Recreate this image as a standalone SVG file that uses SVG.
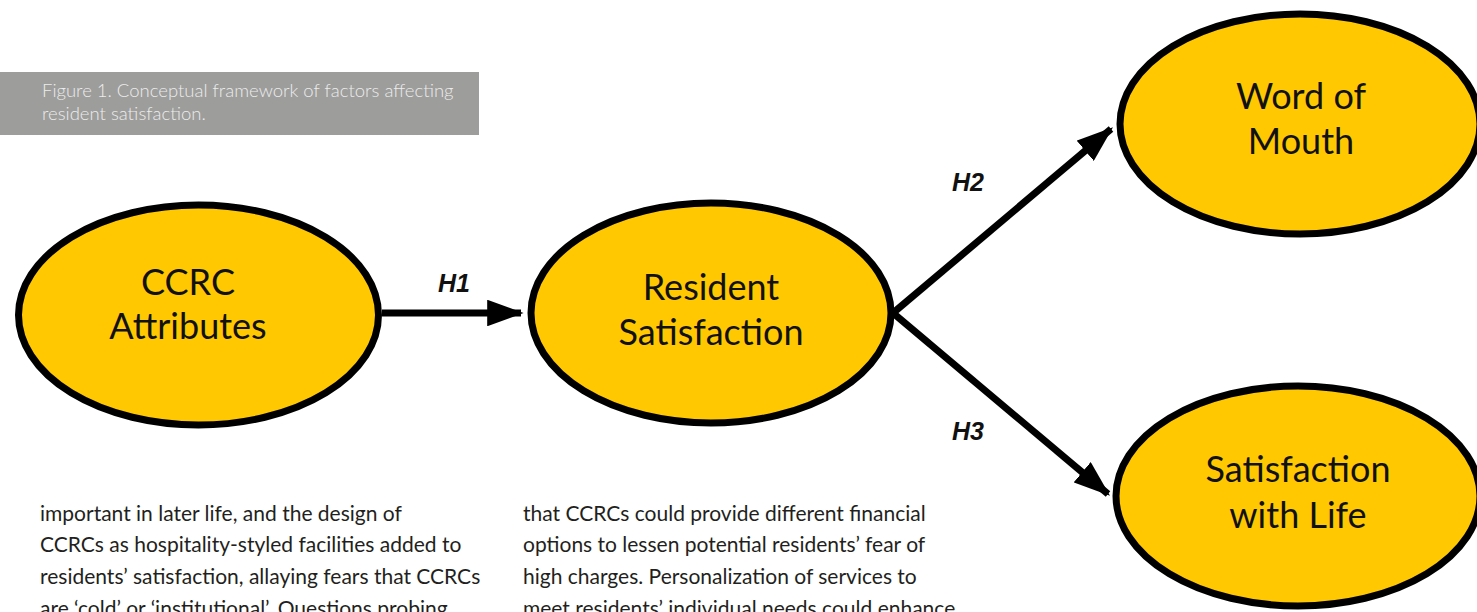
<svg xmlns="http://www.w3.org/2000/svg" width="1477" height="612" viewBox="0 0 1477 612">
<style>
.node{fill:#FFC800;stroke:#000;stroke-width:7}
.lbl{font-family:Lato,"Open Sans",sans-serif;font-size:36px;fill:#111;text-anchor:middle}
.h{font-family:"Liberation Sans",Arial,sans-serif;font-weight:bold;font-style:italic;font-size:25px;fill:#111;text-anchor:middle}
.conn{stroke:#000;stroke-width:7;fill:none}
.cap{font-family:Lato,"Open Sans",sans-serif;font-weight:300;font-size:18.5px;fill:#ececec}
.body{font-family:Lato,"Open Sans",sans-serif;font-size:21px;fill:#231f20}
</style>
<defs>
<marker id="ah" viewBox="0 0 14 10" refX="13" refY="5" markerWidth="5.2" markerHeight="3.8" markerUnits="strokeWidth" orient="auto" preserveAspectRatio="none">
<path d="M0,0 L14,5 L0,10 z" fill="#000"/>
</marker>
</defs>
<rect x="0" y="72" width="479" height="63" fill="#9d9d9b"/>
<text class="cap" x="42" y="97">Figure 1. Conceptual framework of factors affecting</text>
<text class="cap" x="42" y="120">resident satisfaction.</text>
<g id="connectors">
<line class="conn" x1="382" y1="313" x2="521" y2="313" marker-end="url(#ah)"/>
<line class="conn" x1="893" y1="313" x2="1111" y2="129" marker-end="url(#ah)"/>
<line class="conn" x1="893" y1="313" x2="1108" y2="494" marker-end="url(#ah)"/>
<text class="h" x="454" y="292">H1</text>
<text class="h" x="968" y="191">H2</text>
<text class="h" x="968" y="440">H3</text>
</g>
<g id="ccrc">
<ellipse class="node" cx="198.5" cy="315" rx="180" ry="110"/>
<text class="lbl" x="188" y="295">CCRC</text>
<text class="lbl" x="188" y="339">Attributes</text>
</g>
<g id="resident">
<ellipse class="node" cx="711" cy="313" rx="180" ry="110"/>
<text class="lbl" x="711" y="300">Resident</text>
<text class="lbl" x="711" y="345">Satisfaction</text>
</g>
<g id="wom">
<ellipse class="node" cx="1300" cy="124" rx="180" ry="110"/>
<text class="lbl" x="1301" y="109">Word of</text>
<text class="lbl" x="1301" y="154">Mouth</text>
</g>
<g id="swl">
<ellipse class="node" cx="1298" cy="496" rx="182" ry="110"/>
<text class="lbl" x="1298" y="482">Satisfaction</text>
<text class="lbl" x="1298" y="528">with Life</text>
</g>
<g id="body">
<text class="body" x="40" y="521">important in later life, and the design of</text>
<text class="body" x="40" y="552">CCRCs as hospitality-styled facilities added to</text>
<text class="body" x="40" y="584">residents’ satisfaction, allaying fears that CCRCs</text>
<text class="body" x="40" y="616">are ‘cold’ or ‘institutional’. Questions probing</text>
<text class="body" x="523" y="521">that CCRCs could provide different financial</text>
<text class="body" x="523" y="552">options to lessen potential residents’ fear of</text>
<text class="body" x="523" y="584">high charges. Personalization of services to</text>
<text class="body" x="523" y="616">meet residents’ individual needs could enhance</text>
</g>
</svg>
